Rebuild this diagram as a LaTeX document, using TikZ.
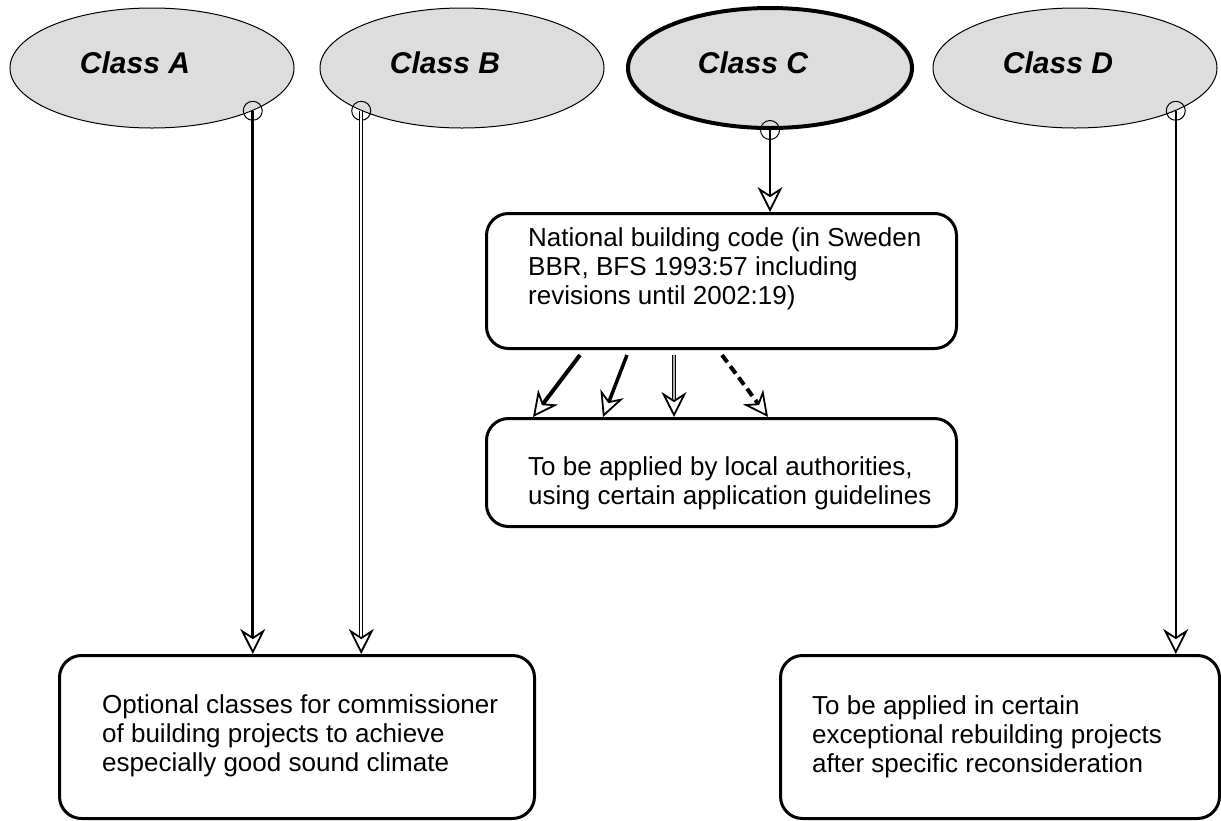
\documentclass[tikz,border=0pt]{standalone}
\usepackage{fontspec}
\setmainfont{Liberation Sans}
\usetikzlibrary{arrows.meta,shapes.geometric}
\definecolor{classgray}{RGB}{221,221,221}
\begin{document}
\begin{tikzpicture}[x=1pt,y=-1pt,
    classnode/.style={ellipse,draw,fill=classgray,line width=1pt,minimum width=284pt,minimum height=120pt,inner sep=0pt},
    classname/.style={font=\fontsize{30}{36}\selectfont\bfseries\itshape},
    codebox/.style={draw,rectangle,rounded corners=22pt,line width=3pt,anchor=north west,inner sep=0pt},
    boxtext/.style={anchor=north west,align=left,inner sep=0pt,font=\fontsize{26}{29}\selectfont},
    startring/.style={line width=1pt},
    opentip/.style={-{Stealth[open,fill=white,length=25pt,width=25pt,inset=8pt,line width=1.8pt]}}]
    \useasboundingbox (0,0) rectangle (1221,820);
    \node[classnode] (classA) at (152,68) {};
    \node[classnode] (classB) at (462,68) {};
    \node[classnode,line width=4pt] (classC) at (770,68) {};
    \node[classnode] (classD) at (1075,68) {};
    \node[classname] (nameA) at ([shift={(-17,-5)}]classA.center) {Class A};
    \node[classname] (nameB) at ([shift={(-17,-5)}]classB.center) {Class B};
    \node[classname] (nameC) at ([shift={(-17,-5)}]classC.center) {Class C};
    \node[classname] (nameD) at ([shift={(-17,-5)}]classD.center) {Class D};
    \node[codebox,minimum width=470pt,minimum height=135pt] (natcode) at (485,212) {};
    \node[codebox,minimum width=470pt,minimum height=108pt] (localauth) at (485,417) {};
    \node[codebox,minimum width=475pt,minimum height=163pt] (optional) at (58,654) {};
    \node[codebox,minimum width=439pt,minimum height=163pt] (exception) at (779,654) {};
    \node[boxtext] (natcodetext) at ([shift={(43,15)}]natcode.north west) {National building code (in Sweden\\BBR, BFS 1993:57 including\\revisions until 2002:19)};
    \node[boxtext] (localauthtext) at ([shift={(43,39)}]localauth.north west) {To be applied by local authorities,\\using certain application guidelines};
    \node[boxtext] (optionaltext) at ([shift={(44,40)}]optional.north west) {Optional classes for commissioner\\of building projects to achieve\\especially good sound climate};
    \node[boxtext] (exceptiontext) at ([shift={(33,41)}]exception.north west) {To be applied in certain\\exceptional rebuilding projects\\after specific reconsideration};
    \coordinate (startA) at (classA.south east);
    \coordinate (startB) at (classB.south west);
    \coordinate (startC) at (classC.south);
    \coordinate (startD) at (classD.south east);
    \draw[startring] (startA) circle (9.5);
    \draw[startring] (startB) circle (9.5);
    \draw[startring] (startC) circle (9.5);
    \draw[startring] (startD) circle (9.5);
    \draw[opentip,line width=3pt] (startA) -- (startA |- optional.north);
    \draw[opentip,line width=1pt,double,double distance=1.5pt] (startB) -- (startB |- optional.north);
    \draw[opentip,line width=2.5pt] (startC) -- (startC |- natcode.north);
    \draw[opentip,line width=2.5pt] (startD) -- (startD |- exception.north);
    \draw[opentip,line width=4pt] ([shift={(95,5)}]natcode.south west) -- ([shift={(48,0)}]localauth.north west);
    \draw[opentip,line width=3.5pt] ([shift={(142,5)}]natcode.south west) -- ([shift={(118,0)}]localauth.north west);
    \draw[opentip,line width=1.2pt,double=gray!60,double distance=1.5pt] ([shift={(189,5)}]natcode.south west) -- ([shift={(189,0)}]localauth.north west);
    \draw[opentip,line width=4pt,dash pattern=on 9pt off 5pt] ([shift={(237,5)}]natcode.south west) -- ([shift={(283,0)}]localauth.north west);
\end{tikzpicture}
\end{document}
